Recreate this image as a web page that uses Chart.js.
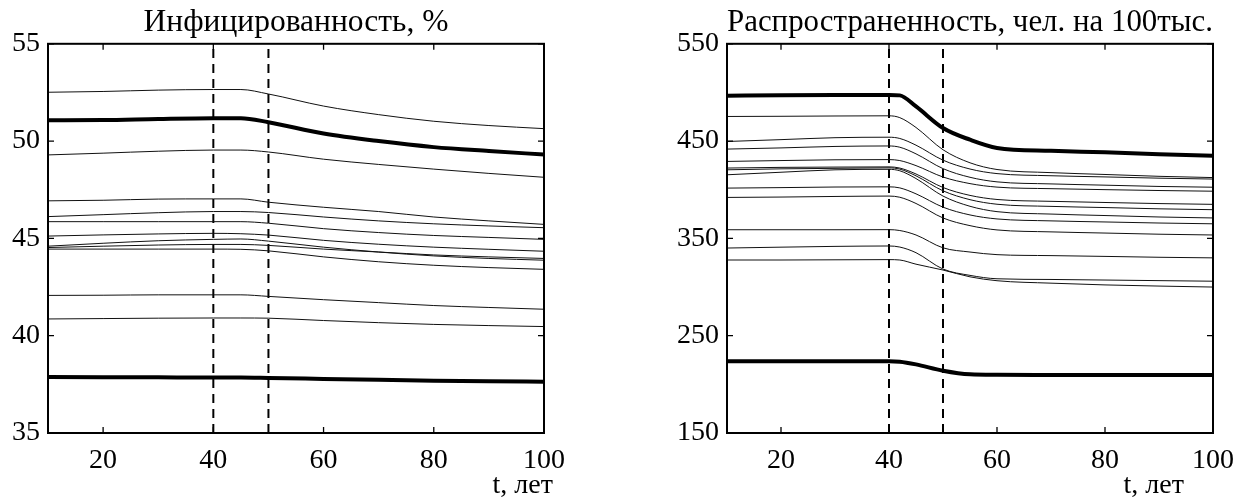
<!DOCTYPE html>
<html>
<head>
<meta charset="utf-8">
<script src="https://cdn.jsdelivr.net/npm/chart.js@4.4.1/dist/chart.umd.min.js"></script>
<style>
    body { margin: 0; background: #fff; }
    #wrap { position: relative; width: 1245px; height: 497px; }
    #infected-chart { position: absolute; left: 0; top: 0; }
    #prevalence-chart { position: absolute; left: 620px; top: 0; }
</style>
</head>
<body>
<div id="wrap">
    <canvas id="infected-chart" width="610" height="497"></canvas>
    <canvas id="prevalence-chart" width="625" height="497"></canvas>
</div>
<script>
// time points (years)
var yearsLeft = [10, 20, 30, 40, 45, 50, 60, 70, 80, 90, 100];
var yearsRight = [10, 20, 30, 40, 42, 45, 50, 55, 60, 70, 80, 90, 100];
var markYears = [40, 50];
var xTicks = [20, 40, 60, 80, 100];
var infectedTicks = [35, 40, 45, 50, 55];
var prevalenceTicks = [150, 250, 350, 450, 550];

// Инфицированность, %
var infectedBold = [
    [51.07, 51.08, 51.14, 51.18, 51.18, 50.97, 50.39, 50.00, 49.69, 49.49, 49.31],
    [37.88, 37.87, 37.86, 37.85, 37.85, 37.83, 37.78, 37.73, 37.69, 37.66, 37.64]
];
var infectedThin = [
    [52.51, 52.55, 52.62, 52.65, 52.65, 52.42, 51.80, 51.36, 51.02, 50.80, 50.64],
    [49.29, 49.38, 49.48, 49.54, 49.54, 49.44, 49.07, 48.80, 48.56, 48.34, 48.14],
    [46.93, 46.96, 47.02, 47.03, 47.03, 46.86, 46.60, 46.38, 46.10, 45.90, 45.72],
    [46.12, 46.22, 46.32, 46.38, 46.38, 46.33, 46.10, 45.90, 45.75, 45.64, 45.55],
    [45.86, 45.86, 45.86, 45.86, 45.86, 45.78, 45.50, 45.30, 45.15, 45.05, 44.95],
    [45.12, 45.18, 45.23, 45.26, 45.24, 45.17, 44.90, 44.70, 44.55, 44.44, 44.34],
    [44.60, 44.75, 44.88, 44.95, 44.97, 44.86, 44.55, 44.30, 44.10, 43.97, 43.88],
    [44.53, 44.60, 44.66, 44.69, 44.69, 44.64, 44.45, 44.30, 44.15, 44.05, 43.97],
    [44.45, 44.45, 44.45, 44.45, 44.44, 44.36, 44.05, 43.80, 43.62, 43.50, 43.41],
    [42.07, 42.08, 42.10, 42.10, 42.10, 42.02, 41.85, 41.70, 41.55, 41.45, 41.36],
    [40.86, 40.88, 40.90, 40.91, 40.91, 40.90, 40.78, 40.67, 40.58, 40.52, 40.47]
];

// Распространенность, чел. на 100тыс.
var prevalenceBold = [
    [496.5, 497.2, 497.5, 497.5, 497.0, 485.6, 463.4, 451.4, 443.0, 440.0, 438.5, 436.5, 435.0],
    [223.7, 223.7, 223.7, 223.7, 223.3, 220.5, 214.0, 210.3, 209.8, 209.7, 209.6, 209.5, 209.5]
];
var prevalenceThin = [
    [475.3, 475.5, 475.8, 476.0, 474.1, 464.0, 441.1, 427.7, 420.8, 417.6, 415.7, 413.8, 412.5],
    [449.6, 451.5, 453.5, 454.0, 452.7, 445.8, 430.4, 421.3, 416.6, 414.4, 413.2, 411.9, 411.0],
    [441.8, 443.0, 444.5, 445.0, 443.7, 436.9, 421.7, 412.8, 408.1, 406.0, 404.7, 403.4, 402.6],
    [429.1, 430.0, 430.8, 431.0, 430.0, 424.8, 413.1, 406.3, 402.7, 401.1, 400.1, 399.2, 398.5],
    [422.3, 423.0, 423.3, 423.5, 422.3, 416.2, 402.3, 394.2, 390.0, 388.1, 386.9, 385.8, 385.0],
    [420.5, 421.5, 422.0, 422.5, 421.2, 414.3, 398.9, 389.8, 385.1, 382.9, 381.7, 380.4, 379.5],
    [415.4, 418.0, 420.5, 421.0, 419.5, 411.5, 393.5, 383.0, 377.5, 375.0, 373.5, 372.0, 371.0],
    [401.7, 402.2, 402.8, 403.0, 401.9, 395.8, 382.1, 374.1, 370.0, 368.0, 366.9, 365.8, 365.0],
    [392.1, 392.5, 393.1, 393.5, 392.3, 385.9, 371.0, 363.1, 358.7, 356.7, 355.5, 354.3, 353.5],
    [358.9, 358.9, 358.9, 359.0, 358.1, 353.5, 340.3, 336.0, 333.3, 332.3, 331.5, 330.6, 330.0],
    [340.1, 341.0, 341.8, 342.2, 341.1, 335.3, 318.5, 312.0, 308.5, 307.8, 307.2, 306.6, 306.0],
    [327.8, 327.8, 328.0, 328.2, 327.8, 323.5, 317.5, 310.5, 306.5, 304.0, 302.2, 301.0, 300.0]
];

var serif = '"Liberation Serif", "Times New Roman", serif';

// box round the plot, inward ticks on all four sides, x axis caption
var framePlugin = {
    id: 'frame',
    afterDraw: function(chart, args, opts) {
        var ctx = chart.ctx, a = chart.chartArea;
        var x = chart.scales.x, y = chart.scales.y;
        ctx.save();
        ctx.strokeStyle = '#000';
        ctx.lineWidth = 2;
        ctx.strokeRect(a.left, a.top, a.right - a.left, a.bottom - a.top);
        ctx.lineWidth = 1.3;
        ctx.beginPath();
        x.ticks.forEach(function(t) {
            var px = x.getPixelForValue(t.value);
            ctx.moveTo(px, a.bottom); ctx.lineTo(px, a.bottom - 6);
            ctx.moveTo(px, a.top); ctx.lineTo(px, a.top + 6);
        });
        y.ticks.forEach(function(t) {
            var py = y.getPixelForValue(t.value);
            ctx.moveTo(a.left, py); ctx.lineTo(a.left + 6, py);
            ctx.moveTo(a.right, py); ctx.lineTo(a.right - 6, py);
        });
        ctx.stroke();
        ctx.fillStyle = '#000';
        ctx.font = '28px ' + serif;
        ctx.textAlign = 'right';
        ctx.textBaseline = 'alphabetic';
        ctx.fillText(opts.xLabel, a.right + opts.xLabelShift, 493);
        ctx.restore();
    }
};

function buildDatasets(years, bold, thin, yMin, yMax) {
    var sets = [];
    thin.forEach(function(vals) {
        sets.push({
            data: vals.map(function(v, i) { return {x: years[i], y: v}; }),
            borderColor: '#111',
            borderWidth: 1,
            pointRadius: 0,
            cubicInterpolationMode: 'monotone'
        });
    });
    bold.forEach(function(vals) {
        sets.push({
            data: vals.map(function(v, i) { return {x: years[i], y: v}; }),
            borderColor: '#000',
            borderWidth: 4,
            pointRadius: 0,
            cubicInterpolationMode: 'monotone'
        });
    });
    markYears.forEach(function(yr) {
        sets.push({
            data: [{x: yr, y: yMin}, {x: yr, y: yMax}],
            borderColor: '#000',
            borderWidth: 2,
            borderDash: [9, 6],
            pointRadius: 0
        });
    });
    return sets;
}

function makeChart(id, title, years, bold, thin, yTicks, yWidth, padRight, xLabelShift) {
    var yMin = yTicks[0], yMax = yTicks[yTicks.length - 1];
    return new Chart(document.getElementById(id).getContext('2d'), {
        type: 'line',
        data: { datasets: buildDatasets(years, bold, thin, yMin, yMax) },
        plugins: [framePlugin],
        options: {
            responsive: false,
            animation: false,
            devicePixelRatio: 1,
            layout: { padding: { top: 0, right: padRight, bottom: 0, left: 0 } },
            plugins: {
                legend: { display: false },
                tooltip: { enabled: false },
                title: {
                    display: true,
                    text: title,
                    fullSize: false,
                    color: '#000',
                    font: { family: serif, size: 31.5, weight: 'normal' },
                    padding: { top: 4, bottom: 2 }
                },
                frame: { xLabel: 't, лет', xLabelShift: xLabelShift }
            },
            scales: {
                x: {
                    type: 'linear',
                    min: 10,
                    max: 100,
                    afterBuildTicks: function(scale) {
                        scale.ticks = xTicks.map(function(v) { return {value: v}; });
                    },
                    afterFit: function(scale) { scale.height = 64; },
                    grid: { display: false, drawTicks: false },
                    border: { display: false },
                    ticks: { color: '#000', padding: 11, maxRotation: 0, font: { family: serif, size: 28 } }
                },
                y: {
                    min: yMin,
                    max: yMax,
                    afterBuildTicks: function(scale) {
                        scale.ticks = yTicks.map(function(v) { return {value: v}; });
                    },
                    afterFit: function(scale) { scale.width = yWidth; },
                    grid: { display: false, drawTicks: false },
                    border: { display: false },
                    ticks: { color: '#000', padding: 8, font: { family: serif, size: 28 } }
                }
            }
        }
    });
}

document.addEventListener("DOMContentLoaded", function() {
    makeChart('infected-chart', 'Инфицированность, %', yearsLeft,
        infectedBold, infectedThin, infectedTicks, 48, 66, 9);
    makeChart('prevalence-chart', 'Распространенность, чел. на 100тыс.', yearsRight,
        prevalenceBold, prevalenceThin, prevalenceTicks, 107, 23, -29);
});
</script>
</body>
</html>
